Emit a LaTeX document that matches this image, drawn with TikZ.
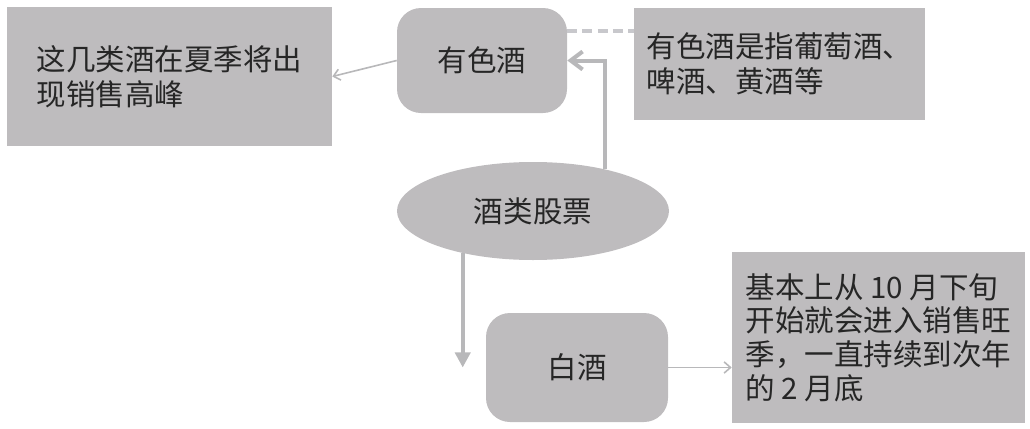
\documentclass[tikz,border=0pt]{standalone}
\usepackage{fontspec}
\newfontfamily\cjk{Noto Sans CJK SC}
\usepackage{xcolor}
\usepackage{tikz}
\usetikzlibrary{arrows.meta,shapes.geometric,calc}

\definecolor{boxgray}{RGB}{190,188,190}
\definecolor{linkgray}{RGB}{184,184,186}
\definecolor{dashgray}{RGB}{200,200,204}

\tikzset{
  textbox/.style={fill=boxgray, inner sep=0pt, align=left, text=black!85,
                  font=\cjk\fontsize{21}{25}\selectfont},
  roundbox/.style={textbox, rounded corners=6mm, align=center},
  thinlink/.style={linkgray, line width=0.4mm,
                   -{Straight Barb[length=1.6mm,width=2.8mm]}},
  thicklink/.style={linkgray, line width=1mm},
}

\begin{document}
\begin{tikzpicture}[x=0.25mm,y=-0.25mm]
  \useasboundingbox (0,0) rectangle (1030,429);
  % --- boxes ---
  \node[textbox, minimum width=81.25mm, minimum height=34.75mm] (summer)
       at (169.5,76.5) {这几类酒在夏季将出\\现销售高峰};
  \node[roundbox, minimum width=42.5mm, minimum height=26.25mm] (colored)
       at (482,60.5) {有色酒};
  \node[textbox, minimum width=72.75mm, minimum height=28mm] (note)
       at (779.5,64) {有色酒是指葡萄酒、\\啤酒、黄酒等};
  \node[ellipse, fill=boxgray, inner sep=0pt, minimum width=68mm,
        minimum height=24.5mm, text=black!85, font=\cjk\fontsize{21}{25}\selectfont]
       (stock) at (533,211) {酒类股票};
  \node[roundbox, minimum width=45.5mm, minimum height=27.25mm] (white)
       at (577,367.5) {白酒};
  \node[textbox, minimum width=73.25mm, minimum height=42.75mm,
        font=\cjk\fontsize{21}{24}\selectfont] (season)
       at (878.5,337.5) {基本上从 10 月下旬\\开始就会进入销售旺\\季，一直持续到次年\\的 2 月底};
  % --- connectors ---
  \draw[thinlink] (colored.west) -- (summer.east);
  \draw[thinlink] (white.east) -- (white.east -| season.west);
  \draw[dashgray, line width=1mm, dash pattern=on 2.5mm off 1.3mm]
       ([yshift=7.4mm]colored.east) coordinate (d) -- (d -| note.west);
  \draw[thicklink, -{Straight Barb[length=3mm,width=4.5mm]}]
       (stock.30) |- (colored.east);
  \draw[thicklink, -{Triangle[length=3.8mm,width=3.8mm]}]
       (stock.211) -- (stock.211 |- white.west);
\end{tikzpicture}
\end{document}
